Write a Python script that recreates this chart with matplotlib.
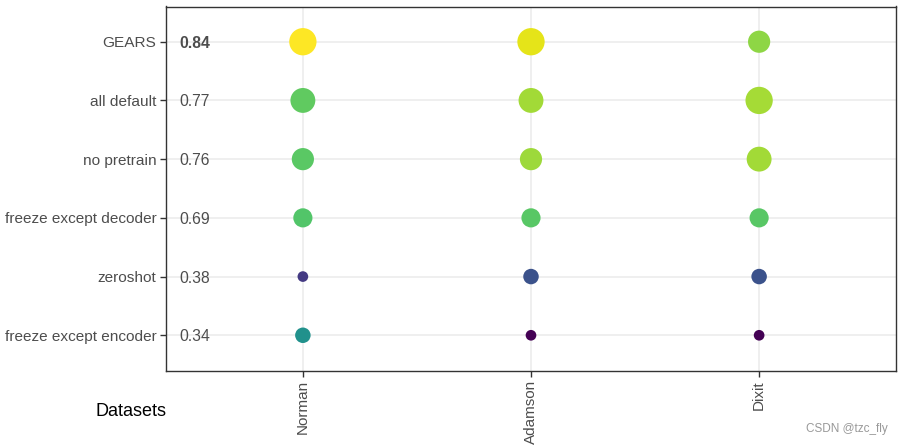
import matplotlib
matplotlib.use('Agg')
import matplotlib.pyplot as plt
import numpy as np

plt.rcParams['font.family'] = ['Liberation Sans', 'DejaVu Sans']

# 数据
methods = ["GEARS", "all default", "no pretrain", "freeze except decoder",
           "zeroshot", "freeze except encoder"]
overall = ["0.84", "0.77", "0.76", "0.69", "0.38", "0.34"]
datasets = ["Norman", "Adamson", "Dixit"]
# 每个数据集的归一化得分（颜色）
norman = [1.00, 0.755, 0.745, 0.73, 0.17, 0.50]
adamson = [0.96, 0.86, 0.855, 0.74, 0.25, 0.00]
dixit = [0.83, 0.865, 0.86, 0.74, 0.25, 0.00]

scores = np.array([norman, adamson, dixit])

fig = plt.figure(figsize=(9.03, 4.45), dpi=100)
ax = fig.add_axes([166 / 903, 1 - 370.5 / 445, 730 / 903, 364 / 445])

cmap = plt.get_cmap('viridis')
n = len(methods)
for j, col in enumerate(scores):
    # 点大小按列内排名
    rank = np.argsort(np.argsort(col)) + 1
    area = 114 + (rank - 1) * (745 - 114) / (n - 1)
    s = (np.sqrt(area) * 0.72) ** 2
    ax.scatter(np.full(n, j), np.arange(n), s=s, c=cmap(col),
               edgecolors='none', zorder=3)

for i, t in enumerate(overall):
    ax.text(-0.54, i, t, ha='left', va='center_baseline', fontsize=11.3,
            color='#4d4d4d', fontweight='bold' if i == 0 else 'normal')

ax.set_xlim(-0.6, len(datasets) - 0.4)
ax.set_ylim(n - 0.4, -0.6)
ax.set_xticks(range(len(datasets)))
ax.set_xticklabels(datasets, rotation=90, fontsize=11, color='#4d4d4d')
ax.set_yticks(range(n))
ax.set_yticklabels(methods, fontsize=11.1, color='#4d4d4d')
for lab in ax.get_yticklabels():
    lab.set_verticalalignment('center_baseline')
ax.tick_params(length=4, width=1, color='#333333', pad=3)
ax.grid(True, color='#ebebeb', linewidth=1.1, zorder=0)
ax.set_axisbelow(True)
for sp in ax.spines.values():
    sp.set_color('#333333')
    sp.set_linewidth(1)

fig.text(96 / 903, 1 - 411 / 445, "Datasets", fontsize=13, color='black',
         ha='left', va='center')
fig.text(888 / 903, 1 - 429 / 445, "CSDN @tzc_fly", fontsize=8.5,
         color='#999999', ha='right', va='center')

plt.savefig('out.png', dpi=100)
plt.close()
